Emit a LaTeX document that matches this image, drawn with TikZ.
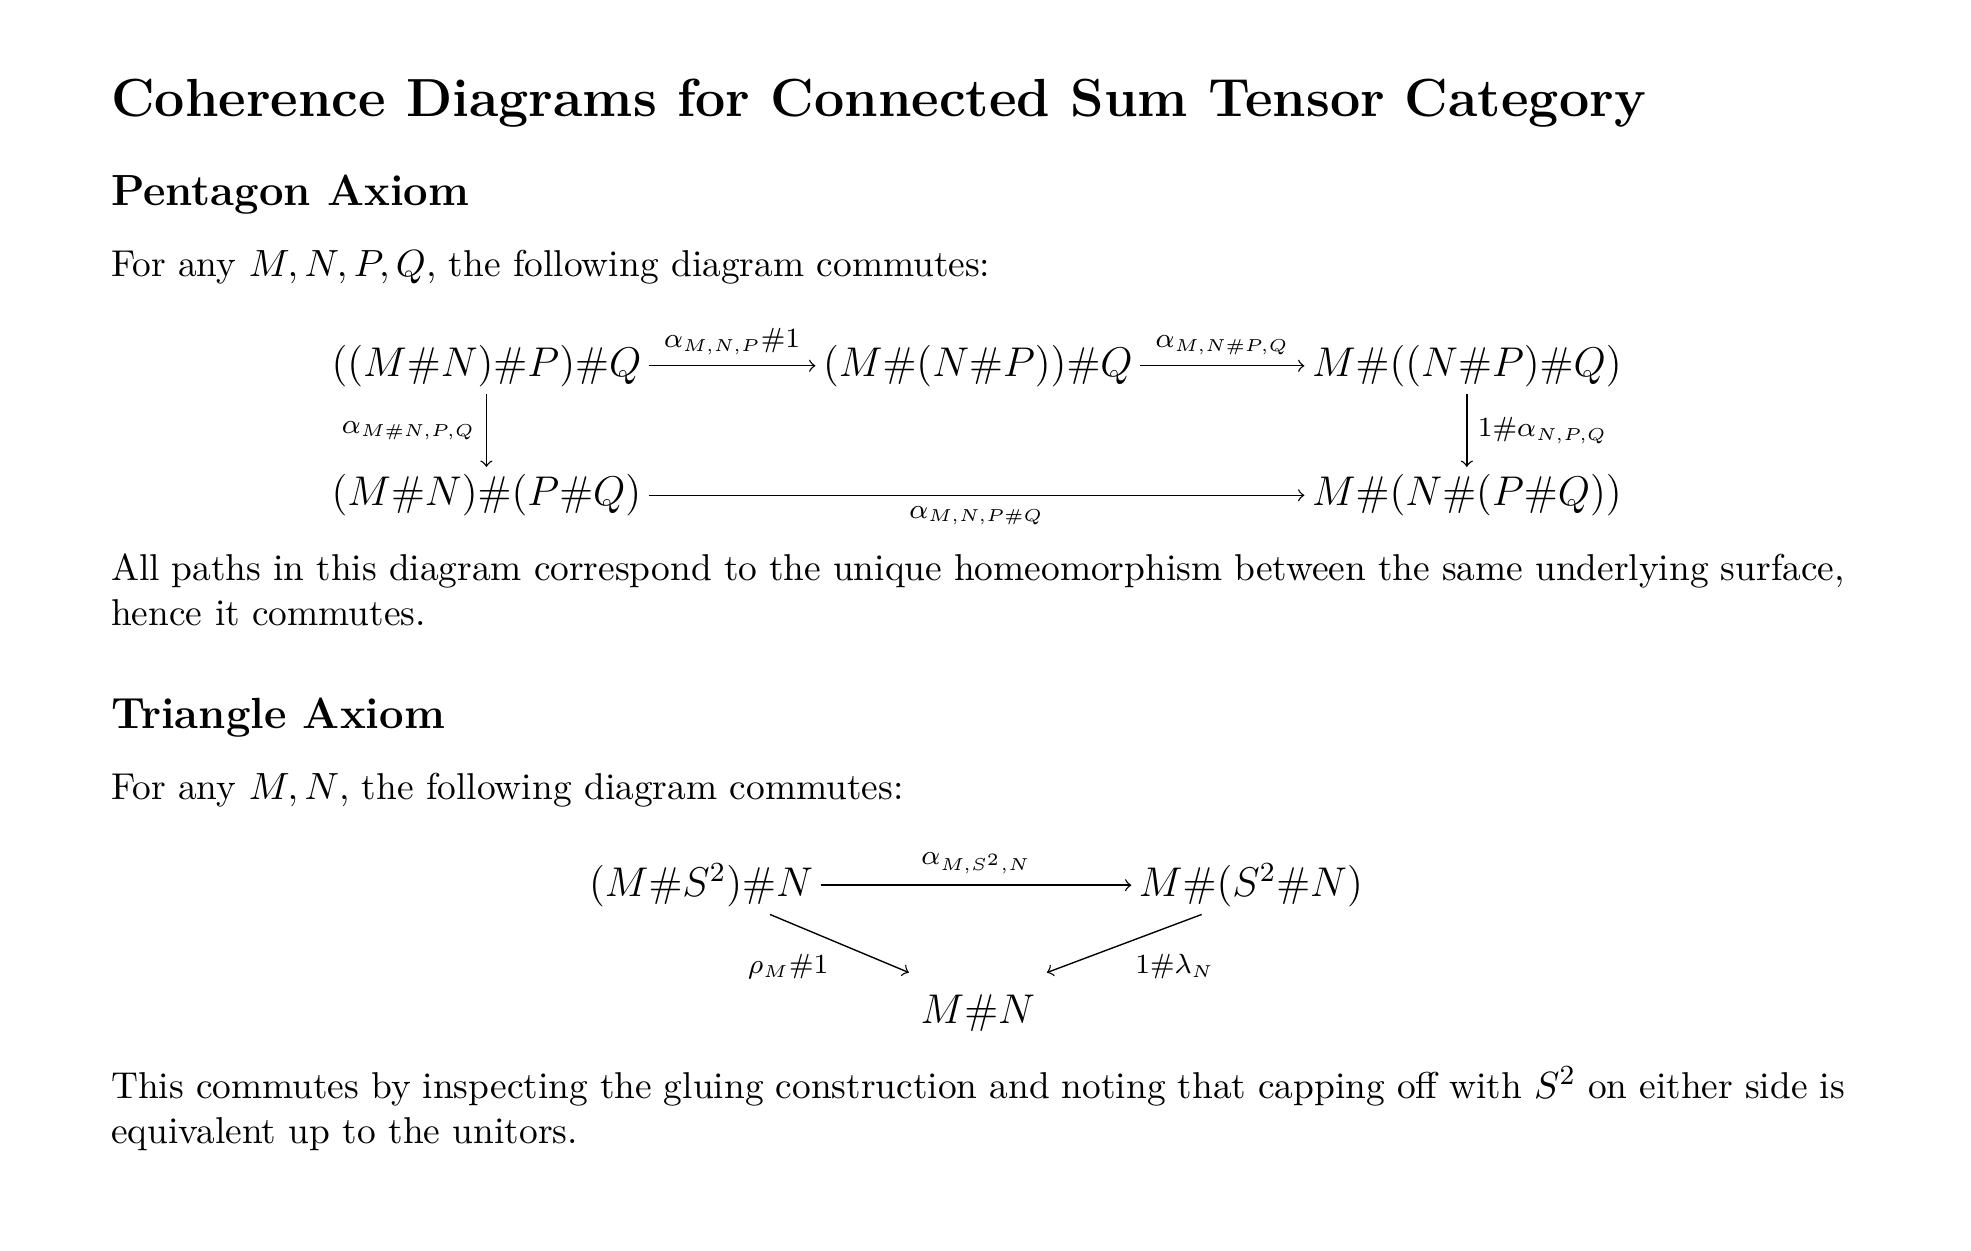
\documentclass[tikz,border=0pt]{standalone}
\usepackage{amsmath}
\usetikzlibrary{positioning}
\tikzset{
  para/.style={anchor=base west, inner sep=0pt, text width=17.6cm, align=justify, font=\fontsize{10.8}{13}\selectfont},
  obj/.style={inner sep=2pt, font=\fontsize{11.8}{14}\selectfont},
  lab/.style={font=\fontsize{11}{13}\selectfont, inner sep=3pt},
}
\begin{document}
\begin{tikzpicture}[x=0.01289cm, y=-0.01289cm, ->]
\useasboundingbox (0,0) rectangle (1552,985);
\node[anchor=west, inner sep=0pt, font=\fontsize{15.5}{18}\selectfont\bfseries] (title) at (87,81) {Coherence Diagrams for Connected Sum Tensor Category};
\node[anchor=west, inner sep=0pt, font=\fontsize{12.6}{15}\selectfont\bfseries] (sec1) at (87,153) {Pentagon Axiom};
\node[para, anchor=west] (p1) at (87,210) {For any $M,N,P,Q$, the following diagram commutes:};
% pentagon
\node[obj] (a) at (383,288) {$((M\#N)\#P)\#Q$};
\node[obj] (b) at (770,288) {$(M\#(N\#P))\#Q$};
\node[obj] (c) at (1155,288) {$M\#((N\#P)\#Q)$};
\node[obj] (d) at (383,390) {$(M\#N)\#(P\#Q)$};
\node[obj] (e) at (1155,390) {$M\#(N\#(P\#Q))$};
\path
(a) edge node[lab, above] {$\scriptstyle\alpha_{M,N,P}\#1$} (b)
(b) edge node[lab, above] {$\scriptstyle\alpha_{M,N\#P,Q}$} (c)
(a) edge node[lab, left] {$\scriptstyle\alpha_{M\#N,P,Q}$} (d)
(c) edge node[lab, right] {$\scriptstyle1\#\alpha_{N,P,Q}$} (e)
(d) edge node[lab, below] {$\scriptstyle\alpha_{M,N,P\#Q}$} (e);
\node[para] (p2) at (87,457) {All paths in this diagram correspond to the unique homeomorphism between the same underlying surface, hence it commutes.};
\node[anchor=west, inner sep=0pt, font=\fontsize{12.6}{15}\selectfont\bfseries] (sec2) at (87,565) {Triangle Axiom};
\node[para, anchor=west] (p3) at (87,622) {For any $M,N$, the following diagram commutes:};
% triangle
\node[obj] (t1) at (552,697) {$(M\#S^2)\#N$};
\node[obj] (t2) at (985,697) {$M\#(S^2\#N)$};
\node[obj] (t3) at (770,798) {$M\#N$};
\path
(t1) edge node[lab, above] {$\scriptstyle\alpha_{M,S^2,N}$} (t2)
([xshift=0.7cm]t1.south) edge node[lab, below left] {$\scriptstyle\rho_M\#1$} ([xshift=-0.7cm,yshift=0.15cm]t3.north)
([xshift=-0.5cm]t2.south) edge node[lab, below right] {$\scriptstyle1\#\lambda_N$} ([xshift=0.7cm,yshift=0.15cm]t3.north);
\node[para] (p4) at (87,865) {This commutes by inspecting the gluing construction and noting that capping off with $S^2$ on either side is equivalent up to the unitors.};
\end{tikzpicture}
\end{document}
